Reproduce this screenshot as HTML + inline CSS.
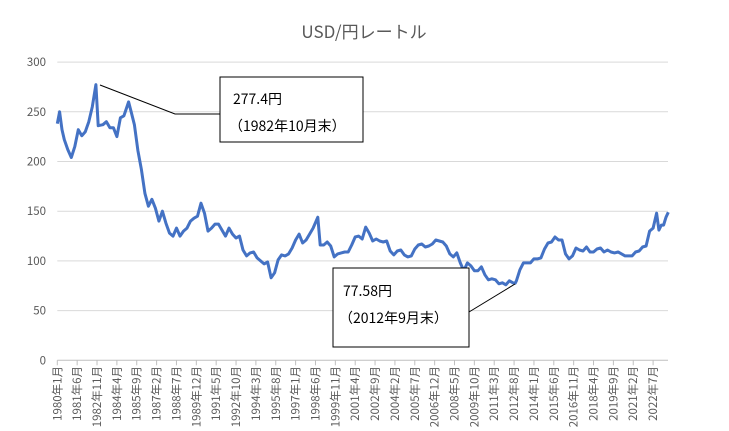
<!DOCTYPE html>
<html><head><meta charset="utf-8"><style>
html,body{margin:0;padding:0;background:#fff}
svg{display:block;font-family:"Noto Sans CJK JP","Liberation Sans",sans-serif}
</style></head><body>
<svg id="c" width="729" height="431" viewBox="0 0 729 431">
<text x="364" y="38" text-anchor="middle" font-size="17" fill="#595959">USD/円レートル</text>
<g id="grid"></g><g id="yl"></g><g id="xl"></g>
<path id="line" fill="none" stroke="#4472C4" stroke-width="3" stroke-linejoin="round"/>
<g>
<polyline points="100,85 175,114 220,114" fill="none" stroke="#000" stroke-width="1"/>
<rect x="220" y="77" width="143" height="65" fill="#fff" stroke="#000" stroke-width="1"/>
<text x="233" y="104" font-size="14" fill="#000">277.4円</text>
<text x="229" y="131" font-size="14" fill="#000">（1982年10月末）</text>
</g>
<g>
<polyline points="469,312 515,284" fill="none" stroke="#000" stroke-width="1"/>
<rect x="333" y="268" width="136" height="79" fill="#fff" stroke="#000" stroke-width="1"/>
<text x="343" y="296" font-size="14" fill="#000">77.58円</text>
<text x="339" y="323" font-size="14" fill="#000">（2012年9月末）</text>
</g>
</svg>
<script>
const yTicks=[0,50,100,150,200,250,300];
const xTickLabels=["1980年1月","1981年6月","1982年11月","1984年4月","1985年9月","1987年2月","1988年7月","1989年12月","1991年5月","1992年10月","1994年3月","1995年8月","1997年1月","1998年6月","1999年11月","2001年4月","2002年9月","2004年2月","2005年7月","2006年12月","2008年5月","2009年10月","2011年3月","2012年8月","2014年1月","2015年6月","2016年11月","2018年4月","2019年9月","2021年2月","2022年7月"];
const months=["1980-01","1980-03","1980-05","1980-07","1980-10","1981-01","1981-04","1981-07","1981-10","1982-01","1982-04","1982-07","1982-10","1982-12","1983-04","1983-07","1983-10","1984-01","1984-04","1984-07","1984-10","1985-02","1985-04","1985-07","1985-10","1986-01","1986-04","1986-07","1986-10","1987-01","1987-04","1987-07","1987-10","1988-01","1988-04","1988-07","1988-10","1989-01","1989-04","1989-07","1989-10","1990-01","1990-04","1990-07","1990-10","1991-01","1991-04","1991-07","1991-10","1992-01","1992-04","1992-07","1992-10","1993-01","1993-04","1993-07","1993-10","1994-01","1994-04","1994-07","1994-10","1995-01","1995-04","1995-07","1995-10","1996-01","1996-04","1996-07","1996-10","1997-01","1997-04","1997-07","1997-10","1998-01","1998-04","1998-08","1998-10","1999-01","1999-04","1999-07","1999-10","2000-01","2000-04","2000-07","2000-10","2001-01","2001-04","2001-07","2001-10","2002-01","2002-04","2002-07","2002-10","2003-01","2003-04","2003-07","2003-10","2004-01","2004-04","2004-07","2004-10","2005-01","2005-04","2005-07","2005-10","2006-01","2006-04","2006-07","2006-10","2007-01","2007-04","2007-07","2007-10","2008-01","2008-04","2008-07","2008-10","2009-01","2009-04","2009-07","2009-10","2010-01","2010-04","2010-07","2010-10","2011-01","2011-04","2011-07","2011-10","2012-01","2012-04","2012-07","2012-09","2012-10","2013-01","2013-04","2013-07","2013-10","2014-01","2014-04","2014-07","2014-10","2015-01","2015-04","2015-07","2015-10","2016-01","2016-04","2016-07","2016-10","2017-01","2017-04","2017-07","2017-10","2018-01","2018-04","2018-07","2018-10","2019-01","2019-04","2019-07","2019-10","2020-01","2020-04","2020-07","2020-10","2021-01","2021-04","2021-07","2021-10","2022-01","2022-04","2022-07","2022-10","2022-12","2023-02","2023-04","2023-06","2023-08"];
const rates=[238,250,232,222,212,204,215,232,226,230,240,255,277.4,236,237,240,234,234,225,244,246,260,251,237,211,192,168,155,162,153,140,150,138,128,125,133,125,130,133,140,143,145,158,148,130,133,137,137,131,125,133,127,123,125,111,105,108,109,103,100,97,99,83,88,101,106,105,107,113,121,127,118,121,127,133,144,116,116,119,115,104,107,108,109,109,116,124,125,122,134,128,120,122,120,119,120,110,106,110,111,106,104,105,112,116,117,114,115,117,121,120,119,115,107,104,108,98,90,98,95,90,90,94,86,81,82,81,77,78,76,80,78,77.58,80,91,98,98,98,102,102,103,112,118,119,124,121,121,107,102,105,113,111,110,114,109,109,112,113,109,111,109,108,109,107,105,105,105,109,110,114,115,130,133,148,131,136,136,144,149];
const ns="http://www.w3.org/2000/svg",svg=document.getElementById('c');
const X0=57.3,PX=19.86/17,Y0=360.3,PY=49.7/50,XR=668;
function mi(s){const [y,m]=s.split('-').map(Number);return (y-1980)*12+(m-1);}
function x(i){return X0+i*PX;}
function y(v){return Y0-v*PY;}
function mk(t,a,p,txt){const e=document.createElementNS(ns,t);for(const k in a)e.setAttribute(k,a[k]);if(txt!=null)e.textContent=txt;p.appendChild(e);return e;}
const g=document.getElementById('grid'),yl=document.getElementById('yl'),xl=document.getElementById('xl');
yTicks.forEach(v=>{
 const l=mk('line',{x1:X0,x2:XR,y1:y(v),y2:y(v),stroke:v===0?'#bfbfbf':'#d9d9d9','stroke-width':1},g);
 
 
 const t=mk('text',{x:46,y:y(v)+4,'text-anchor':'end','font-size':11.5,fill:'#595959'},yl,String(v));
 
 
});
xTickLabels.forEach((s,k)=>{
 const xx=x(k*17);
 const tk=mk('line',{x1:xx,x2:xx,y1:Y0,y2:Y0+5,stroke:'#bfbfbf','stroke-width':1},g);
 
 
 const t=mk('text',{transform:`translate(${xx+4},366) rotate(-90)`,'text-anchor':'end','font-size':11.5,fill:'#595959'},xl,s);
 
 
});
document.getElementById('line').setAttribute('d',months.map((m,i)=>(i?'L':'M')+x(mi(m)).toFixed(1)+','+y(rates[i]).toFixed(1)).join(''));
</script>
</body></html>
